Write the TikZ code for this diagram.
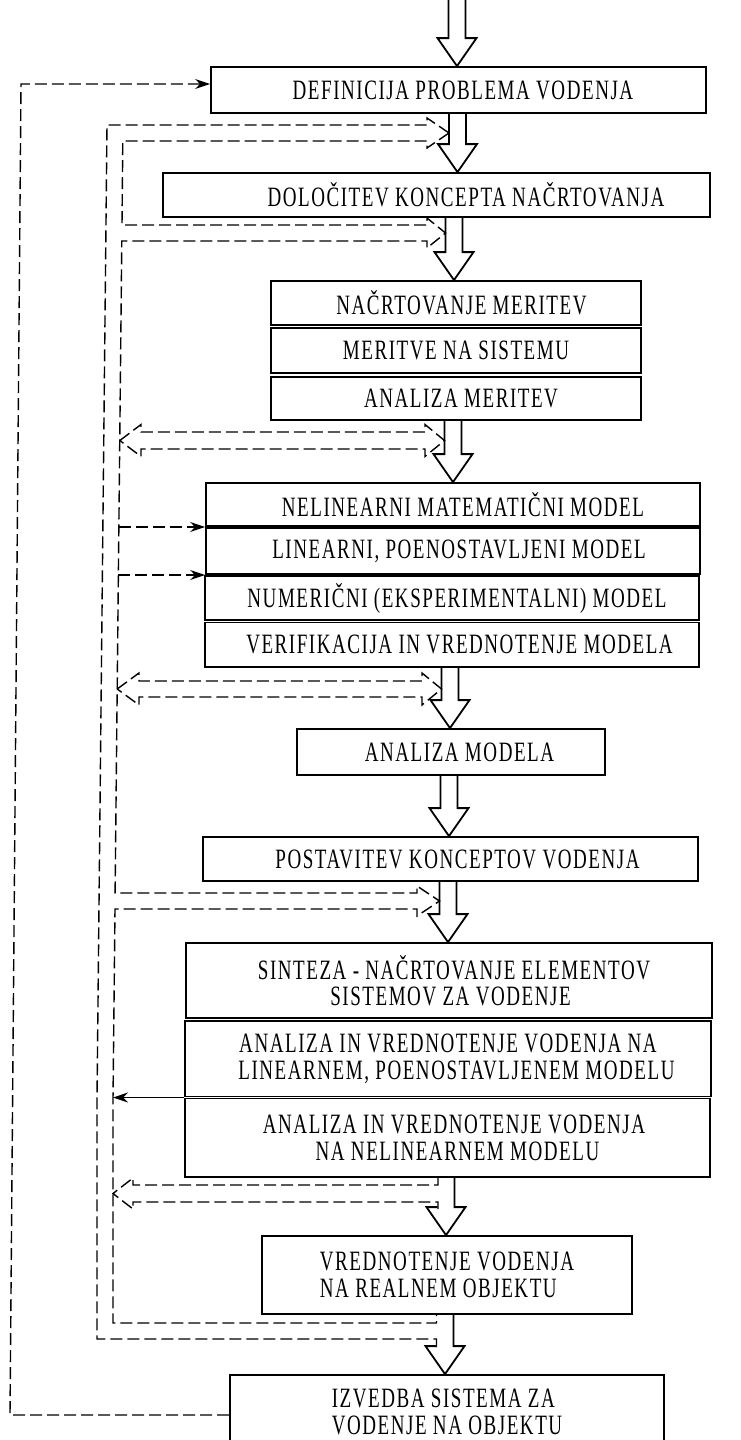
\documentclass[tikz,border=0pt]{standalone}
\usepackage{fontspec}
\setmainfont{Liberation Serif}[FakeStretch=0.68,LetterSpace=5.5]
\usetikzlibrary{arrows.meta,calc}

% hollow block arrow between two stacked boxes, axis at x = #1
\newcommand\flowarrow[3]{%
  \coordinate (ax) at (#1,0);
  \coordinate (at) at (ax |- #2.south);
  \coordinate (ah) at (ax |- #3.north);
  \draw[mainline] ($(at)+(-8.5,0)$) -- ($(ah)+(-8.5,-28)$) -- ($(ah)+(-19.5,-28)$)
    -- (ah) -- ($(ah)+(19.5,-28)$) -- ($(ah)+(8.5,-28)$) -- ($(at)+(8.5,0)$);}
% same arrow, left wall left open for the dashed return channel
\newcommand\flowarrowopen[3]{%
  \coordinate (ax) at (#1,0);
  \coordinate (at) at (ax |- #2.south);
  \coordinate (ah) at (ax |- #3.north);
  \draw[mainline] ($(ah)+(-8.5,-28)$) -- ($(ah)+(-19.5,-28)$)
    -- (ah) -- ($(ah)+(19.5,-28)$) -- ($(ah)+(8.5,-28)$) -- ($(at)+(8.5,0)$);}

\begin{document}
\begin{tikzpicture}[x=0.5pt,y=-0.5pt,
  box/.style={draw,line width=0.9pt,inner sep=0pt,align=center,
    font=\fontsize{14pt}{13.3pt}\selectfont},
  mainline/.style={line width=0.9pt,line join=miter},
  pipe/.style={line width=0.7pt,dash pattern=on 6pt off 2.5pt},
  tipd/.style={-{Stealth[length=7.5pt,width=5pt]}},
]
\useasboundingbox (0,0) rectangle (740,1440);
\fill[white] (0,0) rectangle (740,1440);
\clip (0,0) rectangle (740,1440);

% ---- boxes ----
\node[box,minimum width=247.5pt,minimum height=23pt] (b1) at (458.5,90) {\hspace*{4.5pt}DEFINICIJA PROBLEMA VODENJA};
\node[box,minimum width=273.5pt,minimum height=22pt] (b2) at (436.5,195) {\hspace*{29.5pt}DOLOČITEV KONCEPTA NAČRTOVANJA};

\node[box,minimum width=185pt,minimum height=22pt] (b3a) at (456,303) {\hspace*{5.5pt}NAČRTOVANJE MERITEV};
\node[box,minimum width=185pt,minimum height=22.5pt] (b3b) at (456,350.5) {MERITVE NA SISTEMU};
\node[box,minimum width=185pt,minimum height=21.5pt] (b3c) at (456,398.5) {\hspace*{5pt}ANALIZA MERITEV};

\node[box,minimum width=247pt,minimum height=21.5pt] (b4a) at (453,504.5) {\hspace*{10pt}NELINEARNI MATEMATIČNI MODEL};
\node[box,minimum width=247pt,minimum height=23pt] (b4b) at (453,551) {\hspace*{6pt}LINEARNI, POENOSTAVLJENI MODEL};
\node[box,minimum width=247pt,minimum height=22pt] (b4c) at (452,598) {\hspace*{5pt}NUMERIČNI (EKSPERIMENTALNI) MODEL};
\node[box,minimum width=247pt,minimum height=22.25pt] (b4d) at (452,644.75) {\hspace*{7.5pt}VERIFIKACIJA IN VREDNOTENJE MODELA};

\node[box,minimum width=154pt,minimum height=23pt] (b5) at (451,752) {\hspace*{8.5pt}ANALIZA MODELA};
\node[box,minimum width=247.5pt,minimum height=22pt] (b6) at (450.5,859) {\hspace*{7pt}POSTAVITEV KONCEPTOV VODENJA};

\node[box,minimum width=263pt,minimum height=37.5pt] (b7a) at (449,980.5)
  {\hspace*{5pt}SINTEZA - NAČRTOVANJE ELEMENTOV\\\hspace*{1.5pt}SISTEMOV ZA VODENJE};
\node[box,minimum width=263pt,minimum height=37.75pt] (b7b) at (448,1058.75)
  {ANALIZA IN VREDNOTENJE VODENJA NA\\\hspace*{8.5pt}LINEARNEM, POENOSTAVLJENEM MODELU};
\node[box,minimum width=262.5pt,minimum height=39.25pt] (b7c) at (447.5,1137.75)
  {\hspace*{6.5pt}ANALIZA IN VREDNOTENJE VODENJA\\\hspace*{10pt}NA NELINEARNEM MODELU};

\node[box,align=left,minimum width=185pt,minimum height=39pt] (b8) at (447,1275)
  {VREDNOTENJE VODENJA\\NA REALNEM OBJEKTU};
% last box runs past the lower edge of the page
\node[box,align=left,minimum width=217pt,minimum height=37pt] (b9) at (447,1412)
  {IZVEDBA SISTEMA ZA\\VODENJE NA OBJEKTU};

% ---- main flow (hollow block arrows) ----
\coordinate (in) at (457,-4);
\draw[mainline] ($(in)+(-8.5,0)$) -- ($(in |- b1.north)+(-8.5,-28)$) -- ($(in |- b1.north)+(-19.5,-28)$)
  -- (in |- b1.north) -- ($(in |- b1.north)+(19.5,-28)$) -- ($(in |- b1.north)+(8.5,-28)$) -- ($(in)+(8.5,0)$);
\flowarrow{457.5}{b1}{b2}
\flowarrow{454}{b2}{b3a}
\flowarrow{453}{b3c}{b4a}
\flowarrow{450}{b4d}{b5}
\flowarrow{449}{b5}{b6}
\flowarrow{448}{b6}{b7a}
\flowarrowopen{446}{b7c}{b8}
\flowarrowopen{445}{b8}{b9}

% ---- dashed return channel, outer wall ----
\draw[pipe] (449,133) -- (427,118) -- (427,125) -- (107,125) -- (97,1100) -- (97,1339)
  -- (436.5,1339) -- (436.5,1347);
% ---- dashed return channel, inner wall with its branches ----
\draw[pipe] (449,133) -- (427,148) -- (427,141) -- (122.8,141) -- (122,225) -- (427,225)
  -- (427,218) -- (445.5,233) -- (427,248) -- (427,241) -- (121.8,241) -- (115.1,893)
  -- (417,893) -- (417,886) -- (439.5,901) -- (417,916) -- (417,909) -- (115,909)
  -- (113,1100) -- (113,1323) -- (436.5,1323) -- (436.5,1314);

% double-headed hollow arrows
\draw[pipe] (119.8,440.5) -- (141,424.5) -- (141,432) -- (425,432) -- (425,424.5) -- (444.5,440.5)
  -- (425,456.5) -- (425,449) -- (141,449) -- (141,456.5) -- cycle;
\draw[pipe] (117.2,689) -- (139,673) -- (139,681) -- (422,681) -- (422,673) -- (441.5,689)
  -- (422,705) -- (422,697) -- (139,697) -- (139,705) -- cycle;
% left-pointing hollow arrow below the synthesis block
\draw[pipe] (438,1177) -- (438,1185) -- (133,1185) -- (133,1178) -- (113,1193.5) -- (133,1209)
  -- (133,1202) -- (438,1202) -- (438,1209);

% single dashed arrows into the model block
\coordinate (qa) at (118.9,527);
\coordinate (qb) at (118.4,575);
\draw[pipe,tipd] (qa) -- (qa -| b4a.west);
\draw[pipe,tipd] (qb) -- (qb -| b4b.west);

% solid arrow back to the channel
\coordinate (qc) at (113,1097.5);
\draw[line width=0.8pt,tipd] (qc -| b7c.west) -- (qc);

% long outer feedback loop
\coordinate (o1) at (21,84);
\coordinate (o2) at (10,1415);
\draw[pipe,tipd] (b9.west |- o2) -- (o2) -- (o1) -- (o1 -| b1.west);
\end{tikzpicture}
\end{document}
